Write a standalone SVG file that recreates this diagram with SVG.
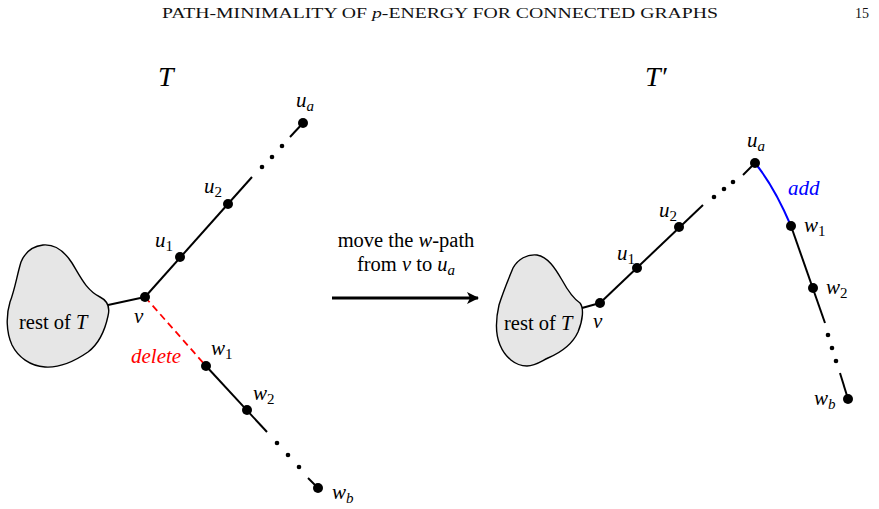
<svg xmlns="http://www.w3.org/2000/svg" width="879" height="509" viewBox="0 0 879 509">
<style>
.bg{fill:#ffffff}
.edge{stroke:#000;stroke-width:2;fill:none;stroke-linecap:butt}
.blob{fill:#e6e6e6;stroke:#000;stroke-width:1.4}
.node{fill:#000}
.dot{fill:#000}
.del{stroke:#ff0000;stroke-width:1.8;stroke-dasharray:7 4.5;fill:none}
.addl{stroke:#0000ff;stroke-width:2;fill:none}
.m{font-family:"Liberation Serif",serif;font-style:italic;font-size:21px;fill:#000}
.sub{font-size:15px}
.up{font-style:normal}
.rm{font-family:"Liberation Serif",serif;font-size:20.5px;fill:#000}
.title{font-family:"Liberation Serif",serif;font-style:italic;font-size:28px;fill:#000}
.hdr{font-family:"Liberation Serif",serif;font-size:14px;fill:#111}
</style>
<defs>
<marker id="ah" viewBox="0 0 12 12" refX="11" refY="6" markerWidth="12" markerHeight="12" markerUnits="userSpaceOnUse" orient="auto">
<path d="M0,0 L12,6 L0,12 L3,6 Z" fill="#000"/>
</marker>
</defs>
<rect class="bg" x="0" y="0" width="879" height="509"/>
<g id="header">
<text class="hdr" x="162" y="18" textLength="556" lengthAdjust="spacingAndGlyphs">PATH-MINIMALITY OF <tspan font-style="italic">p</tspan>-ENERGY FOR CONNECTED GRAPHS</text>
<text class="hdr" x="855" y="18">15</text>
</g>
<g id="titles">
<text class="title" x="158" y="86">T</text>
<text class="title" x="645" y="86">T′</text>
</g>
<g id="connectors">
<line class="edge" x1="108" y1="305" x2="145" y2="297"/>
<line class="edge" x1="145" y1="297" x2="252" y2="177"/>
<line class="edge" x1="290" y1="137" x2="303" y2="123"/>
<line class="del" x1="145" y1="297" x2="206" y2="366"/>
<line class="edge" x1="206" y1="366" x2="267" y2="432"/>
<line class="edge" x1="308" y1="478" x2="318" y2="488"/>
<line class="edge" x1="582" y1="308" x2="600" y2="303"/>
<line class="edge" x1="600" y1="303" x2="703" y2="205"/>
<line class="edge" x1="743" y1="175" x2="755" y2="163"/>
<path class="addl" d="M755,163 Q774,186 791,226"/>
<line class="edge" x1="791" y1="226" x2="825" y2="323"/>
<line class="edge" x1="840" y1="373" x2="848" y2="399"/>
<line x1="332" y1="298" x2="478" y2="298" stroke="#000" stroke-width="3" marker-end="url(#ah)"/>
</g>
<g id="rest-left">
<path class="blob" d="M43,245 C55,244 65,252 72,263 C80,276 86,290 100,297 C108,301 110,308 108,316 C105,330 100,343 88,352 C75,361 60,368 45,367 C30,366 18,357 12,345 C6,332 6,315 10,302 C15,289 17,275 21,262 C26,250 34,246 43,245 Z"/>
<text class="rm" x="19" y="329">rest of <tspan font-style="italic">T</tspan></text>
</g>
<g id="rest-right">
<path class="blob" d="M537,255 C548,257 555,268 562,280 C568,291 574,299 580,303 C584,308 583,320 578,332 C573,343 562,352 548,358 C540,362 535,366 527,366 C515,366 505,357 500,345 C495,333 496,318 499,305 C503,292 508,280 513,268 C518,259 527,254 537,255 Z"/>
<text class="rm" x="504" y="330">rest of <tspan font-style="italic">T</tspan></text>
</g>
<g id="move-label">
<text class="rm" x="406" y="247" text-anchor="middle">move the <tspan font-style="italic">w</tspan>-path</text>
<text class="rm" x="406" y="271" text-anchor="middle">from <tspan font-style="italic">v</tspan> to <tspan font-style="italic">u</tspan><tspan class="sub" font-style="italic" dy="4">a</tspan></text>
</g>
<g id="L-v"><circle class="node" cx="145" cy="297" r="5"/><text class="m" x="134" y="323">v</text></g>
<g id="L-u1"><circle class="node" cx="180" cy="257" r="5"/><text class="m" x="155" y="247">u<tspan class="sub up" dy="4">1</tspan></text></g>
<g id="L-u2"><circle class="node" cx="228" cy="204" r="5"/><text class="m" x="204" y="193">u<tspan class="sub up" dy="4">2</tspan></text></g>
<g id="L-udots"><circle class="dot" cx="262" cy="167" r="2.3"/><circle class="dot" cx="272" cy="157" r="2.3"/><circle class="dot" cx="282" cy="146" r="2.3"/></g>
<g id="L-ua"><circle class="node" cx="303" cy="123" r="5"/><text class="m" x="296" y="107">u<tspan class="sub" dy="4">a</tspan></text></g>
<g id="L-delete"><text class="m" x="131" y="363" style="fill:#ff0000">delete</text></g>
<g id="L-w1"><circle class="node" cx="206" cy="366" r="5"/><text class="m" x="211" y="355">w<tspan class="sub up" dy="4">1</tspan></text></g>
<g id="L-w2"><circle class="node" cx="247" cy="410" r="5"/><text class="m" x="253" y="400">w<tspan class="sub up" dy="4">2</tspan></text></g>
<g id="L-wdots"><circle class="dot" cx="277" cy="443" r="2.3"/><circle class="dot" cx="288" cy="455" r="2.3"/><circle class="dot" cx="299" cy="467" r="2.3"/></g>
<g id="L-wb"><circle class="node" cx="318" cy="488" r="5"/><text class="m" x="332" y="499">w<tspan class="sub" dy="4">b</tspan></text></g>
<g id="R-v"><circle class="node" cx="600" cy="303" r="5"/><text class="m" x="593" y="328">v</text></g>
<g id="R-u1"><circle class="node" cx="637" cy="268" r="5"/><text class="m" x="617" y="260">u<tspan class="sub up" dy="4">1</tspan></text></g>
<g id="R-u2"><circle class="node" cx="679" cy="227" r="5"/><text class="m" x="659" y="217">u<tspan class="sub up" dy="4">2</tspan></text></g>
<g id="R-udots"><circle class="dot" cx="714" cy="197" r="2.3"/><circle class="dot" cx="724" cy="189" r="2.3"/><circle class="dot" cx="733" cy="182" r="2.3"/></g>
<g id="R-ua"><circle class="node" cx="755" cy="163" r="5"/><text class="m" x="747" y="147">u<tspan class="sub" dy="4">a</tspan></text></g>
<g id="R-add"><text class="m" x="788" y="195" style="fill:#0000ff">add</text></g>
<g id="R-w1"><circle class="node" cx="791" cy="226" r="5"/><text class="m" x="804" y="232">w<tspan class="sub up" dy="4">1</tspan></text></g>
<g id="R-w2"><circle class="node" cx="813" cy="288" r="5"/><text class="m" x="826" y="294">w<tspan class="sub up" dy="4">2</tspan></text></g>
<g id="R-wdots"><circle class="dot" cx="828" cy="335" r="2.3"/><circle class="dot" cx="832" cy="348" r="2.3"/><circle class="dot" cx="836" cy="361" r="2.3"/></g>
<g id="R-wb"><circle class="node" cx="848" cy="399" r="5"/><text class="m" x="814" y="405">w<tspan class="sub" dy="4">b</tspan></text></g>
</svg>
